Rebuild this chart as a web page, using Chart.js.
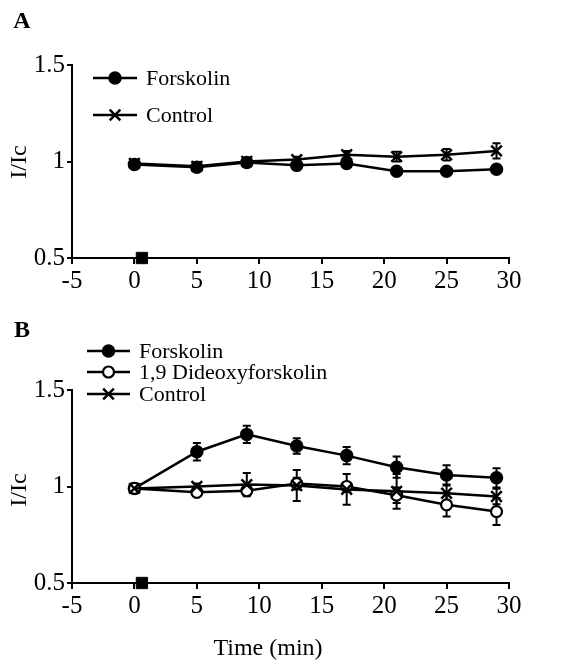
<!DOCTYPE html>
<html>
<head>
<meta charset="utf-8">
<script src="https://cdn.jsdelivr.net/npm/chart.js@4.4.1/dist/chart.umd.min.js"></script>
<style>
  body { margin: 0; background: #fff; width: 567px; height: 660px; overflow: hidden; position: relative; }
  canvas { position: absolute; left: 0; }
  #panelA { top: 0; }
  #panelB { top: 320px; }
</style>
</head>
<body>
<canvas id="panelA" width="567" height="320"></canvas>
<canvas id="panelB" width="567" height="340"></canvas>
<script>
// time points (min)
const times = [0, 5, 9, 13, 17, 21, 25, 29];
const xTicks = [-5, 0, 5, 10, 15, 20, 25, 30];
const yTicks = [0.5, 1, 1.5];

// panel A
const forskA    = [0.985, 0.97, 0.995, 0.98, 0.99, 0.95, 0.95, 0.96];
const forskAErr = [0.01, 0.01, 0.01, 0.01, 0.015, 0.01, 0.01, 0.015];
const ctrlA     = [0.99, 0.975, 1.0, 1.01, 1.035, 1.025, 1.035, 1.055];
const ctrlAErr  = [0.01, 0.01, 0.015, 0.015, 0.02, 0.025, 0.03, 0.04];

// panel B
const forskB      = [0.99, 1.18, 1.27, 1.21, 1.16, 1.10, 1.06, 1.045];
const forskBErr   = [0.01, 0.045, 0.045, 0.04, 0.045, 0.055, 0.05, 0.05];
const dideoxyB    = [0.99, 0.97, 0.978, 1.015, 1.0, 0.955, 0.905, 0.87];
const dideoxyBErr = [0.01, 0.01, 0.01, 0.03, 0.02, 0.04, 0.06, 0.07];
const ctrlB       = [0.99, 1.0, 1.01, 1.005, 0.985, 0.975, 0.965, 0.948];
const ctrlBErr    = [0.01, 0.015, 0.06, 0.08, 0.08, 0.09, 0.04, 0.04];

// drug application marker
const markTime = [0.6];
const markVal = [0.5];

const FONT = 'Liberation Serif';

const styles = {
  forsk:   { pointStyle: 'circle',   radius: 6,   backgroundColor: '#000', borderWidth: 1.5 },
  dideoxy: { pointStyle: 'circle',   radius: 5.5, backgroundColor: '#fff', borderWidth: 2.2 },
  ctrl:    { pointStyle: 'crossRot', radius: 7.5, backgroundColor: '#000', borderWidth: 2.5 }
};

function series(label, vals, errs, st) {
  return {
    label,
    data: times.map((t, i) => ({ x: t, y: vals[i] })),
    errs,
    borderColor: '#000',
    borderWidth: 2.5,
    pointStyle: st.pointStyle,
    pointRadius: st.radius,
    pointBackgroundColor: st.backgroundColor,
    pointBorderColor: '#000',
    pointBorderWidth: st.borderWidth,
    tension: 0,
    fill: false
  };
}

function marker() {
  return {
    label: 'marker',
    data: markTime.map((t, i) => ({ x: t, y: markVal[i] })),
    showLine: false,
    pointStyle: 'rect',
    pointRadius: 8,
    pointBackgroundColor: '#000',
    pointBorderColor: '#000',
    clip: false
  };
}

const errorBars = {
  id: 'errorBars',
  beforeDatasetsDraw(chart) {
    const ctx = chart.ctx;
    const ys = chart.scales.y;
    chart.data.datasets.forEach((ds, i) => {
      if (!ds.errs) return;
      const meta = chart.getDatasetMeta(i);
      ctx.save();
      ctx.strokeStyle = '#000';
      ctx.lineWidth = 2;
      meta.data.forEach((pt, j) => {
        const v = ds.data[j].y, e = ds.errs[j];
        const top = ys.getPixelForValue(v + e), bot = ys.getPixelForValue(v - e);
        ctx.beginPath();
        ctx.moveTo(pt.x, top); ctx.lineTo(pt.x, bot);
        ctx.moveTo(pt.x - 4, top); ctx.lineTo(pt.x + 4, top);
        ctx.moveTo(pt.x - 4, bot); ctx.lineTo(pt.x + 4, bot);
        ctx.stroke();
      });
      ctx.restore();
    });
  }
};

const figText = {
  id: 'figText',
  afterDraw(chart, args, opts) {
    const ctx = chart.ctx;
    ctx.save();
    ctx.fillStyle = '#000';
    (opts.legend || []).forEach(it => {
      ctx.strokeStyle = '#000';
      ctx.lineWidth = 2.5;
      ctx.beginPath();
      ctx.moveTo(it.x0, it.y); ctx.lineTo(it.x1, it.y);
      ctx.stroke();
      const st = styles[it.style];
      ctx.fillStyle = st.backgroundColor;
      ctx.lineWidth = st.borderWidth;
      Chart.helpers.drawPoint(ctx, { pointStyle: st.pointStyle, radius: st.radius, borderWidth: st.borderWidth, rotation: 0 }, (it.x0 + it.x1) / 2, it.y);
      ctx.fillStyle = '#000';
      ctx.font = '22px "' + FONT + '"';
      ctx.textBaseline = 'middle';
      ctx.textAlign = 'left';
      ctx.fillText(it.text, it.tx, it.y + 1);
    });
    (opts.texts || []).forEach(t => {
      ctx.save();
      ctx.font = t.font;
      ctx.textAlign = 'center';
      ctx.textBaseline = 'middle';
      ctx.translate(t.x, t.y);
      if (t.rot) ctx.rotate(t.rot);
      ctx.fillText(t.text, 0, 0);
      ctx.restore();
    });
    ctx.restore();
  }
};

function makePanel(id, datasets, canvasH, areaTop, areaBottom, legend, texts) {
  return new Chart(document.getElementById(id), {
    type: 'line',
    data: { datasets },
    options: {
      responsive: false,
      devicePixelRatio: 1,
      animation: false,
      layout: { padding: { top: areaTop, right: 58, left: 0, bottom: 0 } },
      plugins: {
        legend: { display: false },
        tooltip: { enabled: false },
        figText: { legend, texts }
      },
      scales: {
        x: {
          type: 'linear',
          min: -5, max: 30,
          afterFit: s => { s.height = canvasH - areaBottom; },
          afterBuildTicks: s => { s.ticks = xTicks.map(v => ({ value: v })); },
          grid: { display: true, drawOnChartArea: false, drawTicks: true, tickLength: 6, color: '#000', lineWidth: 2 },
          border: { display: true, color: '#000', width: 2 },
          ticks: { color: '#000', padding: 2, font: { family: FONT, size: 25 }, maxRotation: 0, callback: v => String(v) }
        },
        y: {
          min: 0.5, max: 1.5,
          afterFit: s => { s.width = 72; },
          afterBuildTicks: s => { s.ticks = yTicks.map(v => ({ value: v })); },
          grid: { display: true, drawOnChartArea: false, drawTicks: true, tickLength: 5, color: '#000', lineWidth: 2 },
          border: { display: true, color: '#000', width: 2 },
          ticks: { color: '#000', padding: 2, font: { family: FONT, size: 25 }, callback: v => String(v) }
        }
      }
    },
    plugins: [errorBars, figText]
  });
}

makePanel('panelA', [
    series('Control', ctrlA, ctrlAErr, styles.ctrl),
    series('Forskolin', forskA, forskAErr, styles.forsk),
    marker()
  ], 320, 65, 258,
  [
    { text: 'Forskolin', style: 'forsk', x0: 93, x1: 137, y: 78, tx: 146 },
    { text: 'Control', style: 'ctrl', x0: 93, x1: 137, y: 115, tx: 146 }
  ],
  [
    { text: 'A', x: 22, y: 22, font: 'bold 24px "' + FONT + '"' },
    { text: 'I/Ic', x: 20, y: 162, rot: -Math.PI / 2, font: '24px "' + FONT + '"' }
  ]);

makePanel('panelB', [
    series('Control', ctrlB, ctrlBErr, styles.ctrl),
    series('1,9 Dideoxyforskolin', dideoxyB, dideoxyBErr, styles.dideoxy),
    series('Forskolin', forskB, forskBErr, styles.forsk),
    marker()
  ], 340, 70, 263,
  [
    { text: 'Forskolin', style: 'forsk', x0: 87, x1: 130, y: 31, tx: 139 },
    { text: '1,9 Dideoxyforskolin', style: 'dideoxy', x0: 87, x1: 130, y: 52, tx: 139 },
    { text: 'Control', style: 'ctrl', x0: 87, x1: 130, y: 74, tx: 139 }
  ],
  [
    { text: 'B', x: 22, y: 11, font: 'bold 24px "' + FONT + '"' },
    { text: 'I/Ic', x: 20, y: 170, rot: -Math.PI / 2, font: '24px "' + FONT + '"' },
    { text: 'Time (min)', x: 268, y: 329, font: '24px "' + FONT + '"' }
  ]);
</script>
</body>
</html>
